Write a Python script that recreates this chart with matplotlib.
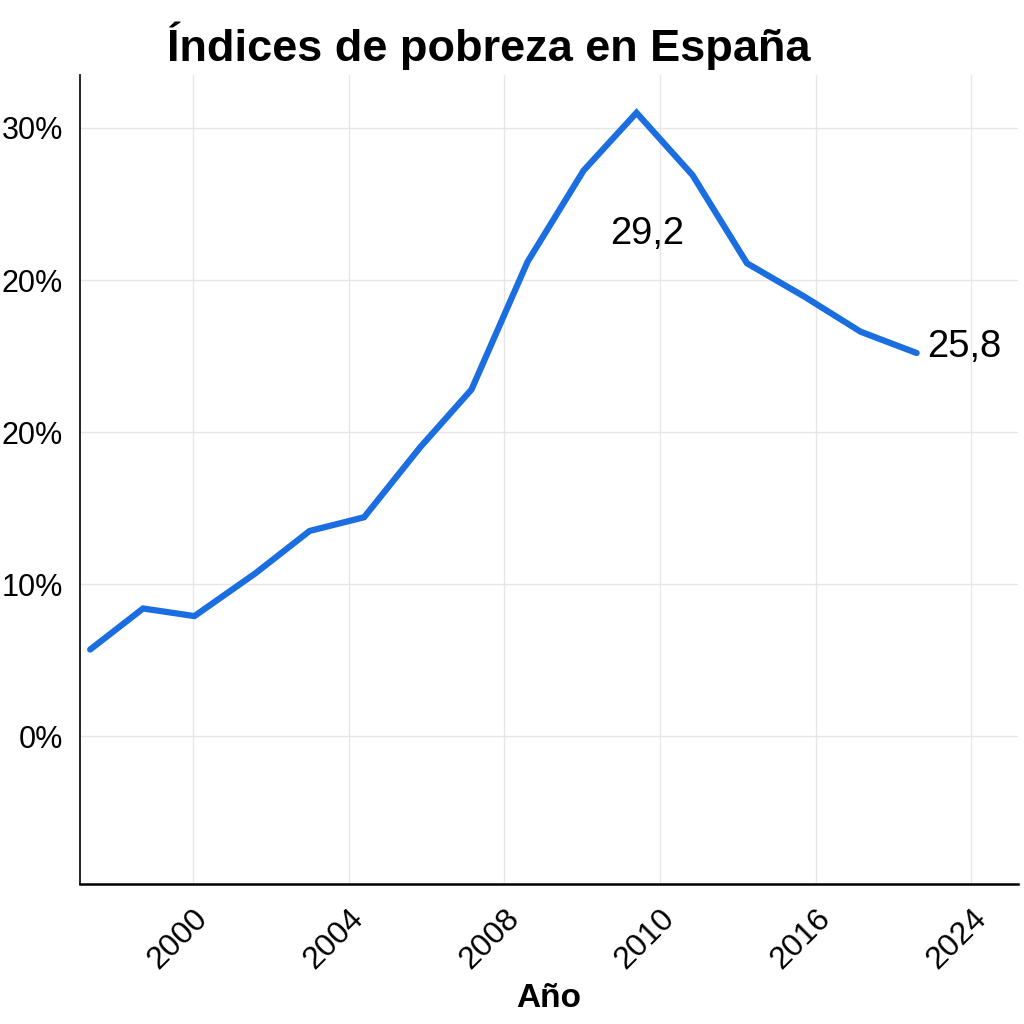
import numpy as np
import matplotlib.pyplot as plt

plt.rcParams['font.family'] = ['Liberation Sans', 'DejaVu Sans']

# posiciones en unidades de marca del eje x (0 = "2000", 1 = "2004", ...)
x_pos = [-0.66, -0.32, 0.01, 0.40, 0.75, 1.10, 1.46, 1.79, 2.15, 2.51,
         2.85, 3.21, 3.56, 3.93, 4.29, 4.65]
# valores en unidades del eje y (10 por marca)
pobreza = [5.7, 8.4, 7.9, 10.7, 13.5, 14.4, 19.0, 22.8, 31.2, 37.2,
           41.0, 36.9, 31.1, 28.9, 26.6, 25.2]

x_ticks = [0, 1, 2, 3, 4, 5]
x_labels = ['2000', '2004', '2008', '2010', '2016', '2024']
y_ticks = [0, 10, 20, 30, 40]
y_labels = ['0%', '10%', '20%', '20%', '30%']

fig = plt.figure(figsize=(10.24, 10.24), dpi=100)
ax = fig.add_axes([0.078, 0.137, 0.916, 0.790])

ax.plot(x_pos, pobreza, color='#1a6ee0', lw=4.5, solid_capstyle='round',
        solid_joinstyle='miter')

ax.set_xlim(-0.726, 5.30)
ax.set_ylim(-9.7, 43.5)
ax.set_xticks(x_ticks)
ax.set_xticklabels(x_labels, rotation=45, ha='right', rotation_mode='anchor',
                   fontsize=23)
ax.set_yticks(y_ticks)
ax.set_yticklabels(y_labels, fontsize=22)
ax.tick_params(length=0)
ax.tick_params(axis='y', pad=12)
ax.tick_params(axis='x', pad=14)
ax.grid(True, color='#e6e6e6', lw=1)
ax.set_axisbelow(True)
for s in ['top', 'right']:
    ax.spines[s].set_visible(False)
ax.spines['left'].set_linewidth(1.2)
ax.spines['bottom'].set_linewidth(1.8)

ax.text(x_pos[10] + 0.07, 33.0, '29,2', fontsize=27.5, ha='center', va='center')
ax.text(x_pos[-1] + 0.07, 25.6, '25,8', fontsize=27.5, ha='left', va='center')

ax.set_xlabel('Año', fontsize=24, fontweight='bold', labelpad=6)
fig.text(0.477, 0.955, 'Índices de pobreza en España', fontsize=32.5,
         fontweight='bold', ha='center', va='center')

fig.savefig('out.png', dpi=100)
